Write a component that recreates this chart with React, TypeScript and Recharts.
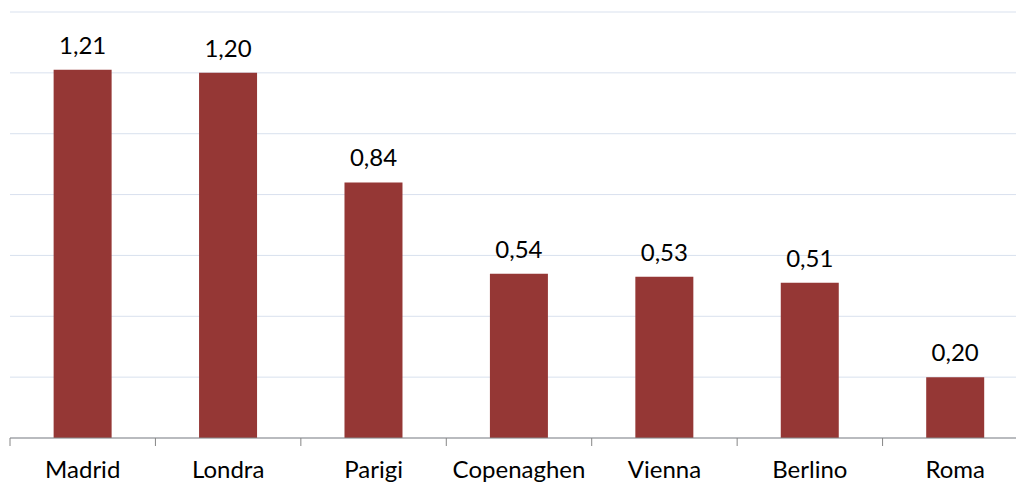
import { BarChart, Bar, XAxis, YAxis, CartesianGrid, LabelList } from "recharts";

const citta = ["Madrid", "Londra", "Parigi", "Copenaghen", "Vienna", "Berlino", "Roma"];
const valori = [1.21, 1.2, 0.84, 0.54, 0.53, 0.51, 0.2];
const tickY = [0, 0.2, 0.4, 0.6, 0.8, 1.0, 1.2, 1.4];

const data = citta.map((nome, i) => ({ nome, valore: valori[i] }));

const W = 1028;
const H = 483;
const M = { top: 12, right: 0, left: 10, bottom: 0 };
const banda = (W - M.left - M.right) / citta.length;

const font = "Lato, 'Open Sans', sans-serif";

// etichetta della categoria + tacca sul bordo sinistro della categoria
function TickCategoria(props: any) {
    const { x, y, payload } = props;
    const xb = x - banda / 2;
    return (
        <g>
            <line x1={xb} y1={438} x2={xb} y2={446} stroke="#868686" strokeWidth={1} />
            <text x={x} y={y} dy={32} textAnchor="middle" fill="#000" fontSize={24} fontFamily={font}>
                {payload.value}
            </text>
        </g>
    );
}

export default function App() {
    return (
        <div style={{ position: "fixed", left: 0, top: 0, width: 1016, height: 483, overflow: "hidden", background: "#fff" }}>
            <BarChart width={W} height={H} data={data} margin={M} barCategoryGap="30%">
                <CartesianGrid vertical={false} stroke="#D9E1EE" strokeWidth={1} />
                <XAxis
                    dataKey="nome"
                    height={45}
                    tickLine={false}
                    axisLine={{ stroke: "#868686", strokeWidth: 1 }}
                    tick={<TickCategoria />}
                    interval={0}
                />
                <YAxis
                    width={0}
                    domain={[0, 1.4]}
                    ticks={tickY}
                    tick={{ fontSize: 0 }}
                    tickFormatter={() => ""}
                    tickLine={false}
                    axisLine={{ stroke: "#D9E1EE", strokeWidth: 1 }}
                />
                <Bar dataKey="valore" fill="#953735" isAnimationActive={false}>
                    <LabelList
                        dataKey="valore"
                        position="top"
                        offset={16}
                        fill="#000"
                        fontSize={24}
                        fontFamily={font}
                        formatter={(v: any) => Number(v).toFixed(2).replace(".", ",")}
                    />
                </Bar>
            </BarChart>
        </div>
    );
}
